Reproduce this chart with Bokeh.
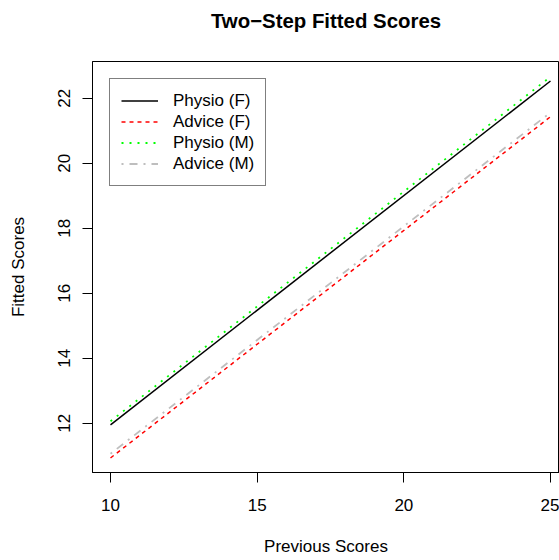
from bokeh.plotting import figure
from bokeh.models import Range1d, FixedTicker, Legend, LegendItem, LinearAxis
from bokeh.embed import file_html
from bokeh.resources import INLINE

# Data
prev_scores = [10, 25]
physio_f = [11.95, 22.53]
advice_f = [10.93, 21.43]
physio_m = [12.06, 22.66]
advice_m = [11.06, 21.56]

x_ticks = [10, 15, 20, 25]
y_ticks = [12, 14, 16, 18, 20, 22]

title_text = "Two\u2212Step Fitted Scores"
FONT = "Liberation Sans"

# layout (pixels)
W, H = 559, 560
FRAME_L, FRAME_T, FRAME_B = 92, 61, 472
X0, X0_PX, X1, X1_PX = 10, 110, 25, 550      # tick 10 -> px 110, tick 25 -> px 550
Y0, Y0_PX, Y1, Y1_PX = 12, 422.7, 22, 97.7   # tick 12 -> px 422.7, tick 22 -> px 97.7

xs = (X1_PX - X0_PX) / (X1 - X0)
ys = (Y0_PX - Y1_PX) / (Y1 - Y0)
x_lo = X0 - (X0_PX - FRAME_L) / xs
x_hi = X0 + (W - X0_PX) / xs
y_lo = Y0 - (FRAME_B - Y0_PX) / ys
y_hi = Y1 + (Y1_PX - FRAME_T) / ys

p = figure(width=W, height=H, output_backend="svg", toolbar_location=None,
           x_range=Range1d(x_lo, x_hi), y_range=Range1d(y_lo, y_hi),
           min_border_left=FRAME_L, min_border_right=0, min_border_top=FRAME_T,
           min_border_bottom=H - FRAME_B)

p.grid.visible = False
p.outline_line_color = "black"
p.outline_line_width = 1
p.background_fill_color = "white"
p.border_fill_color = "white"

for ax in (p.xaxis[0], p.yaxis[0]):
    ax.axis_line_color = "black"
    ax.major_tick_line_color = "black"
    ax.major_tick_in = 0
    ax.major_tick_out = 10
    ax.minor_tick_line_color = None
    ax.major_label_text_font = FONT
    ax.major_label_text_font_size = "17px"
    ax.major_label_text_color = "black"
    ax.axis_label_text_font = FONT
    ax.axis_label_text_font_size = "17px"
    ax.axis_label_text_font_style = "normal"
    ax.axis_label_text_color = "black"

p.xaxis.ticker = FixedTicker(ticks=x_ticks)
p.yaxis.ticker = FixedTicker(ticks=y_ticks)
p.xaxis.axis_label = "Previous Scores"
p.yaxis.axis_label = "Fitted Scores"
p.xaxis.major_label_standoff = 16
p.xaxis.axis_label_standoff = 23
p.yaxis.major_label_orientation = "vertical"
p.yaxis.major_label_standoff = 12
p.yaxis.axis_label_standoff = 28

# main title: carried by a bare axis above the frame so it sits high in the margin
title_axis = LinearAxis(ticker=FixedTicker(ticks=[]), axis_label=title_text,
                        axis_line_color=None, major_tick_line_color=None,
                        minor_tick_line_color=None, major_tick_out=0,
                        major_tick_in=0, major_label_standoff=0,
                        axis_label_standoff=30,
                        axis_label_text_font=FONT,
                        axis_label_text_font_size="20.4px",
                        axis_label_text_font_style="bold",
                        axis_label_text_color="black")
p.add_layout(title_axis, "above")

r1 = p.line(prev_scores, physio_f, line_color="black", line_width=1.5)
r2 = p.line(prev_scores, advice_f, line_color="#FF0000", line_width=1.5, line_dash="4 4")
r3 = p.line(prev_scores, physio_m, line_color="#00FF00", line_width=1.8, line_dash="2 6")
r4 = p.line(prev_scores, advice_m, line_color="#BEBEBE", line_width=1.8, line_dash="2 6 8 6")

legend = Legend(items=[
    LegendItem(label="Physio (F)", renderers=[r1]),
    LegendItem(label="Advice (F)", renderers=[r2]),
    LegendItem(label="Physio (M)", renderers=[r3]),
    LegendItem(label="Advice (M)", renderers=[r4]),
], location="top_left", margin=17)
legend.border_line_color = "black"
legend.border_line_width = 1
legend.background_fill_color = "white"
legend.background_fill_alpha = 1
legend.label_text_font = FONT
legend.label_text_font_size = "17px"
legend.label_text_color = "black"
legend.label_height = 21
legend.glyph_height = 21
legend.glyph_width = 37
legend.label_standoff = 15
legend.padding = 11
legend.spacing = 0
p.add_layout(legend)

open("out.html", "w").write(file_html(p, INLINE))
